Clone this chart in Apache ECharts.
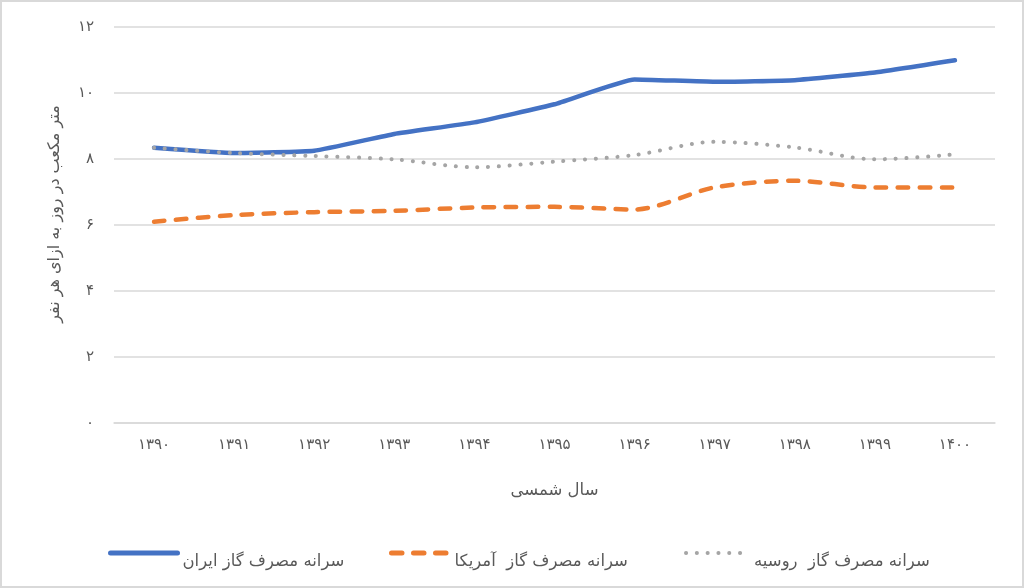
<!DOCTYPE html>
<html>
<head>
<meta charset="utf-8">
<script src="https://cdn.jsdelivr.net/npm/echarts@6/dist/echarts.min.js"></script>
<style>
  html, body { margin: 0; padding: 0; background: #fff; }
  #chart { width: 1024px; height: 588px; box-sizing: border-box; border: 2px solid #d9d9d9; }
</style>
</head>
<body>
<div id="chart"></div>
<script>
// سال‌ها
var years = ['۱۳۹۰', '۱۳۹۱', '۱۳۹۲', '۱۳۹۳', '۱۳۹۴', '۱۳۹۵', '۱۳۹۶', '۱۳۹۷', '۱۳۹۸', '۱۳۹۹', '۱۴۰۰'];
var iranValues = [8.34, 8.18, 8.25, 8.76, 9.11, 9.66, 10.41, 10.34, 10.39, 10.62, 10.99];
var usaValues = [6.10, 6.30, 6.39, 6.43, 6.53, 6.55, 6.47, 7.14, 7.34, 7.14, 7.14];
var russiaValues = [8.34, 8.18, 8.09, 7.99, 7.75, 7.92, 8.12, 8.52, 8.35, 7.99, 8.14];
var seriesNames = ['سرانه مصرف گاز ایران', 'سرانه مصرف گاز  آمریکا', 'سرانه مصرف گاز  روسیه'];

var font = 'DejaVu Sans';
var textColor = '#595959';

function toFa(n) {
  return String(n).replace(/[0-9]/g, function (d) { return '۰۱۲۳۴۵۶۷۸۹'[d]; });
}

// یک راهنما برای هر سری
function legendFor(name, left, width, lineWidth) {
  return {
    data: [name], left: left, top: 542,
    itemWidth: width, itemHeight: 10, itemGap: 0,
    itemStyle: { color: 'rgba(0,0,0,0)', borderWidth: 0 },
    lineStyle: { width: lineWidth },
    formatter: '{t|{name}}',
    textStyle: {
      color: textColor, fontSize: 16.5, fontFamily: font,
      rich: { t: { color: textColor, fontSize: 16.5, fontFamily: font, padding: [18, 0, 0, 0] } }
    }
  };
}

var chart = echarts.init(document.getElementById('chart'));

var option = {
  animation: false,
  textStyle: { fontFamily: font },
  grid: { left: 112, right: 27, top: 25, bottom: 163 },
  legend: [
    legendFor(seriesNames[0], 101, 67, 5),
    legendFor(seriesNames[1], 382, 58, 5),
    legendFor(seriesNames[2], 677, 63, 4)
  ],
  xAxis: {
    type: 'category',
    data: years,
    boundaryGap: true,
    name: 'سال شمسی',
    nameLocation: 'middle',
    nameGap: 59,
    nameTextStyle: { color: textColor, fontSize: 16.5, fontFamily: font },
    axisLine: { lineStyle: { color: '#d9d9d9', width: 1.5 } },
    axisTick: { show: false },
    axisLabel: { color: textColor, fontSize: 15, margin: 15, fontFamily: font }
  },
  yAxis: {
    type: 'value',
    min: 0,
    max: 12,
    interval: 2,
    name: 'متر مکعب در روز به ازای هر نفر',
    nameLocation: 'middle',
    nameGap: 51,
    nameRotate: 90,
    nameTextStyle: { color: textColor, fontSize: 16, fontFamily: font, padding: [0, 0, 0, 22] },
    axisLine: { show: false },
    axisTick: { show: false },
    axisLabel: { color: textColor, fontSize: 15, margin: 20, fontFamily: font,
      formatter: function (v) { return toFa(v); } },
    splitLine: { lineStyle: { color: '#d9d9d9', width: 1.5 } }
  },
  series: [
    {
      name: seriesNames[0], type: 'line', data: iranValues,
      symbol: 'none', smooth: 0.12,
      lineStyle: { color: '#4472c4', width: 4.5, cap: 'round', join: 'round' },
      itemStyle: { color: '#4472c4' }
    },
    {
      name: seriesNames[1], type: 'line', data: usaValues,
      symbol: 'none', smooth: 0.3,
      lineStyle: { color: '#ed7d31', width: 4.5, type: [10.5, 11.5], cap: 'round' },
      itemStyle: { color: '#ed7d31' }
    },
    {
      name: seriesNames[2], type: 'line', data: russiaValues,
      symbol: 'none', smooth: 0.3,
      lineStyle: { color: '#a5a5a5', width: 4, type: [0.1, 10.7], cap: 'round' },
      itemStyle: { color: '#a5a5a5' }
    }
  ]
};

chart.setOption(option);
</script>
</body>
</html>
